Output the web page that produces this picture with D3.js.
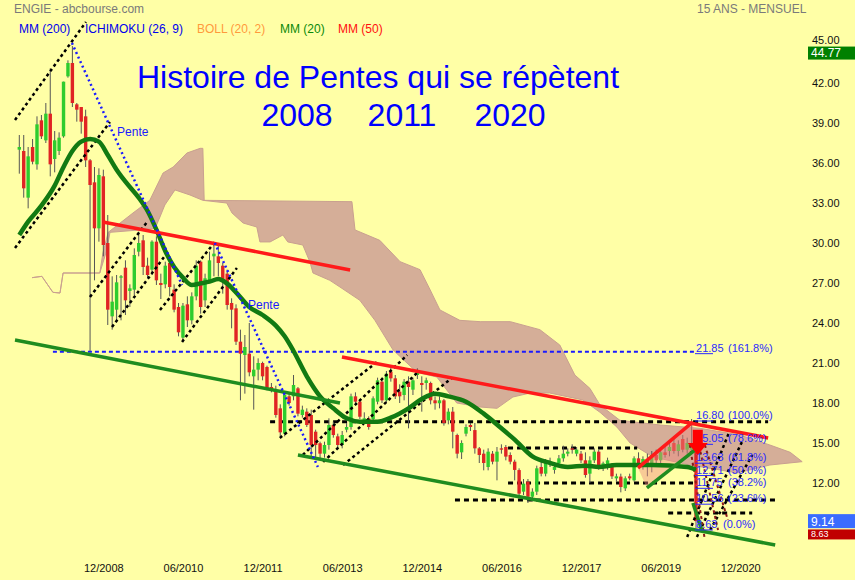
<!DOCTYPE html>
<html><head><meta charset="utf-8">
<script src="https://cdn.jsdelivr.net/npm/d3@7/dist/d3.min.js"></script>
<style>body{margin:0;background:#ffffa6;}svg{display:block;font-family:Arial,"Liberation Sans",sans-serif;}</style>
</head><body><svg id="c" width="855" height="580"></svg>
<script>
// ---- monthly candles, index 0 = 05/2007 ----
const opens=[37.0,36.9,33.4,37.2,35.9,39.2,37.7,39.7,36.3,36.9,38.0,42.5,43.5,40.4,40.2,39.5,36.2,34.55,31.1,35.0,
30.0,24.5,25.0,27.4,28.15,26.4,26.5,29.35,30.2,28.3,28.0,30.1,27.0,26.9,28.5,26.5,25.2,22.9,25.4,24.2,
26.0,28.6,25.7,27.2,29.0,29.0,28.3,27.7,25.5,25.1,22.6,21.6,21.7,20.0,20.5,21.0,20.7,19.2,18.95,17.6,
15.7,18.5,18.5,19.1,17.1,17.35,17.1,15.85,14.98,14.2,14.85,16.35,15.5,14.85,16.0,16.2,18.5,18.1,16.72,16.85,
16.8,18.1,19.6,18.2,20.35,19.85,18.85,18.6,19.6,19.0,20.1,19.5,19.5,19.5,18.2,17.98,18.2,16.7,17.35,15.6,
14.3,15.7,16.35,15.97,14.6,14.2,13.2,14.2,13.6,14.6,14.7,14.1,13.6,12.97,11.35,12.1,10.97,11.35,13.2,12.7,
13.5,12.98,13.5,13.85,14.2,14.6,14.2,14.2,13.7,12.7,13.7,14.35,13.2,13.2,13.35,12.35,12.48,11.6,12.5,12.2,
13.85,13.4,13.8,13.5,14.1,13.7,14.3,14.4,15.0,14.4,15.3,14.5,14.5,15.0];
const highs=[38.1,38.1,37.2,37.8,39.5,39.6,40.5,43.1,38.4,38.3,42.1,43.7,44.77,40.5,40.2,40.0,36.3,35.7,35.6,35.5,
32.1,27.5,27.6,27.6,28.7,26.9,29.6,30.85,30.6,28.9,30.2,30.5,27.7,28.6,28.9,26.9,25.5,25.5,26.0,26.3,
28.7,28.7,27.7,29.35,29.85,29.85,28.5,28.0,25.85,25.4,23.5,23.1,24.0,21.5,21.35,21.1,20.8,19.5,19.3,17.9,
18.85,18.8,20.1,19.2,17.8,17.6,17.5,16.0,15.1,15.1,16.85,16.6,15.7,15.9,16.5,18.7,18.8,18.3,17.3,17.0,
18.5,19.9,19.9,20.4,20.8,20.1,19.4,19.8,20.0,19.9,20.6,20.0,19.9,19.6,18.5,18.5,18.3,17.6,17.7,15.7,
15.2,16.4,16.5,16.5,14.7,14.5,14.6,14.4,14.7,14.9,14.85,14.3,13.75,13.1,12.3,12.3,11.6,13.3,13.6,13.8,
13.9,13.5,14.1,14.8,14.6,14.9,14.7,14.4,14.3,14.0,14.6,14.5,13.6,13.9,13.5,12.7,12.7,12.5,12.7,14.0,
14.3,14.0,14.2,14.4,14.5,14.6,14.9,15.0,15.5,15.2,15.6,15.4,16.8,15.5];
const lows=[35.2,33.4,32.6,35.9,35.5,37.8,37.5,35.0,35.3,36.6,37.9,42.4,40.2,39.1,38.2,35.7,21.9,27.2,30.1,29.0,
23.85,23.5,24.2,24.2,24.6,25.2,26.1,29.0,27.6,27.4,27.6,26.85,25.8,26.6,26.0,24.8,23.0,22.6,23.7,23.9,
25.7,24.7,25.2,27.0,27.5,27.5,26.2,25.0,23.6,22.35,18.2,18.7,20.0,17.5,19.7,19.7,18.95,18.8,16.9,15.5,
15.5,17.8,18.2,17.0,16.9,16.2,13.98,13.9,13.85,13.9,14.5,15.4,14.6,14.6,15.8,16.0,17.9,16.8,16.5,16.0,
16.6,17.9,18.0,18.0,19.6,18.3,18.0,18.2,16.1,18.6,19.8,17.35,19.0,17.9,17.5,17.6,16.3,16.4,14.6,13.85,
13.8,15.5,15.9,14.2,13.5,12.95,12.95,13.4,12.2,14.2,13.7,13.4,12.2,11.1,11.1,10.5,10.6,11.1,12.5,12.5,
13.2,12.7,13.3,13.6,14.0,14.2,14.0,13.5,12.4,12.0,13.5,13.0,12.9,13.0,12.3,12.1,11.3,11.4,12.2,12.1,
13.1,13.0,12.5,12.8,13.5,13.4,13.9,14.0,14.2,14.0,14.3,14.2,14.3,8.63];
const closes=[37.2,34.1,36.5,36.1,38.9,38.0,39.7,35.9,37.7,37.9,42.1,43.5,40.5,40.0,39.1,36.2,34.35,31.1,35.1,29.85,
25.0,25.6,27.05,27.5,25.7,26.6,29.1,30.0,28.2,27.6,30.1,27.2,26.85,28.3,26.7,25.0,23.3,25.3,24.2,26.0,
28.3,25.2,27.35,28.7,29.2,28.5,27.2,25.35,25.0,22.6,21.7,22.2,20.3,20.5,21.0,20.0,19.1,19.0,17.1,15.8,
18.6,18.0,19.35,17.2,17.5,16.35,14.85,14.85,14.2,14.85,16.35,15.6,14.85,15.6,16.2,18.5,18.1,16.97,16.85,16.2,
18.35,19.7,18.2,20.2,19.85,18.5,18.5,19.6,19.2,19.7,20.35,19.35,19.7,18.2,17.98,18.2,16.5,17.35,15.85,14.2,
15.0,16.2,16.2,14.6,14.1,13.5,14.35,13.6,14.35,14.5,13.98,13.6,12.98,11.2,11.95,10.97,11.35,13.1,12.7,13.5,
13.6,13.2,13.85,14.2,14.35,14.5,14.5,13.7,12.6,13.7,14.35,13.2,13.475,13.7,12.5,12.5,11.7,12.35,12.35,13.85,
13.4,13.8,13.5,14.1,13.7,14.3,14.1,14.7,14.4,14.9,14.5,15.0,15.0,9.14];

// MM(20) (candle index, value)
const maIdx=[0,2,5,8,10,12,14,16,18,20,22,24,27,29,31,33,35,37,39,41,43,45,47,49,52,55,58,60,62,65,68,71,74,77,81,84,88,91,94,97,101,105,109,112,116,120,124,128,131,135,143,151,153];
const maVal=[30.6,31.6,32.8,34.3,35.7,36.9,37.6,37.8,37.6,36.6,35.5,34.6,33.4,32.4,31.0,29.4,28.2,27.4,26.85,26.97,27.1,27.3,26.95,26.3,25.2,24.6,23.8,23.0,21.9,20.0,18.5,17.6,16.85,16.6,16.6,16.9,17.6,18.3,18.7,18.5,18.1,17.2,16.1,15.25,14.0,13.5,13.2,13.3,13.2,13.35,13.35,13.2,13.0];

// Ichimoku cloud edges (index, value)
const cloudTopIdx=[2.9,5.1,7.6,9.2,9.9,18.2,18.9,20.1,25.7,29.5,32.5,34.8,37.9,40.9,41.5,41.8,75.2,75.9,81.5,86.1,90.6,92.9,95.1,99.6,104.2,111,117.7,122.2,125.6,129,131.3,135.8,144.9,153.9,162.9,169.7,174.3,177];
const cloudTopVal=[27.4,27.5,26.3,26.25,27.75,27.75,29.25,30.8,32.25,33.2,35.25,35.7,36.75,37.1,37.1,33.2,33.1,30.98,30.2,28.6,28.0,26.48,24.98,24.2,24.1,24.1,23.5,22.35,20.1,19.1,17.85,16.7,16.35,16.1,15.6,14.85,14.3,13.6];
const cloudBotIdx=[2.9,5.1,7.6,9.2,9.9,18.2,19.8,20.5,27.3,30.7,31.8,32.9,35.2,38.6,41.5,46.9,48.1,50.6,53.7,54.4,56.7,59.6,60.7,64.1,65.7,66.4,70.2,72.5,77,80.4,84.5,89.9,94.4,98.9,104.2,108,111.6,115.5,119.9,127.4,131.3,135.1,138.1,143.3,151.6,158.4,162.3,169.7,177];
const cloudBotVal=[27.4,27.5,26.3,26.25,27.75,27.75,29.5,30.8,30.98,31.1,31.95,32.85,33.98,33.6,33.2,33.0,32.25,31.5,31.2,30.08,30.08,30.6,30.08,29.85,28.58,27.75,27.2,26.7,25.7,24.2,21.98,20.3,19.95,18.0,17.7,17.6,18.45,18.75,18.75,18.23,17.3,16.2,15.0,13.95,13.35,12.98,12.75,13.35,13.6];

// drawn trend lines [i1, v1, i2, v2]
const redLines=[[18.9,31.58,74.8,27.98],[72.95,21.45,169.3,15.38],[139.9,13.13,152.3,16.58]];
const greenLines=[[-0.97,22.73,72.5,18.0],[63.0,14.1,170.9,7.35],[152.3,10.5,154.3,8.48],[141.9,11.63,152.8,14.48]];
const channelLines=[[-0.97,39.23,15.08,46.58],[-0.97,29.63,20.5,39.08],[15.98,25.95,28.9,31.58],[20.96,23.7,33.4,29.25],
 [31.8,24.98,44.25,30.08],[36.8,22.58,49.2,28.13],[58.9,15.38,80.9,21.08],[64.1,14.1,87.7,21.6],[68.7,13.58,89.9,20.25],
 [73.2,13.35,97.8,19.88],[151.0,7.95,160.7,15.98],[153.2,7.95,163.6,15.23],[156.2,8.48,165.7,14.1]];
const maroonLines=[[151.6,14.85,155.0,7.73],[153.4,15.23,157.98,8.48],[155.0,14.85,160.2,9.23]];
const penteLines=[[11.9,45.0,36.8,26.85],[44.2,30.0,67.5,13.2]];
const penteLabelIdx=[22.1,51.7], penteLabelVal=[38.0,25.05];
const wedge=[[139.9,13.13],[152.3,16.58],[152.8,14.48],[141.9,11.63]];

// horizontal dotted levels
const hLevels=[16.6,14.63,12.0,10.73,9.75];
const hFrom=[56.7,110.5,110.5,98.5,146.7];
const hTo=[169.3,139.7,153.2,170.9,165.7];
const blueLevel=21.85, blueFrom=7.6, blueTo=152.8;

// Fibonacci retracement
const fibLevels=[21.85,16.80,15.05,13.63,12.71,11.75,10.56,8.63];
const fibText=["21.85","16.80","15.05","13.63","12.71","11.75","10.56","8.63"];
const fibPct=["(161.8%)","(100.0%)","(78.6%)","(61.8%)","(50.0%)","(38.2%)","(23.6%)","(0.0%)"];
const fibIdx=153;

const tickIdx=[19,37,55,73,91,109,127,145,163];
const tickLabels=["12/2008","06/2010","12/2011","06/2013","12/2014","06/2016","12/2017","06/2019","12/2020"];
const yTicks=[45,42,39,36,33,30,27,24,21,18,15,12];
const lastHigh=44.77, lastClose=9.14, lastLow=8.63;

const svg=d3.select("#c");
const x=d3.scaleLinear().domain([0,153]).range([19.3,19.3+153*4.423]);
const y=d3.scaleLinear().domain([12,42]).range([483,83]);

svg.append("rect").attr("width",855).attr("height",580).attr("fill","#ffffa6");

// cloud
const cloudPts=cloudTopIdx.map((d,i)=>[x(d),y(cloudTopVal[i])])
  .concat(cloudBotIdx.map((d,i)=>[x(d),y(cloudBotVal[i])]).reverse());
svg.append("path").attr("d",d3.line()(cloudPts)+"Z").attr("fill","#d5ae98")
  .attr("stroke","#c9a090").attr("stroke-width",1);

// horizontal dotted levels
hLevels.forEach((v,k)=>{
  svg.append("line").attr("x1",x(hFrom[k])).attr("x2",x(hTo[k])).attr("y1",y(v)).attr("y2",y(v))
   .attr("stroke","#000").attr("stroke-width",3).attr("stroke-dasharray","5,4");
});
svg.append("line").attr("x1",x(blueFrom)).attr("x2",x(blueTo)).attr("y1",y(blueLevel)).attr("y2",y(blueLevel))
  .attr("stroke","#1a1aff").attr("stroke-width",2).attr("stroke-dasharray","4,3");

// candles
const cg=svg.append("g");
d3.range(closes.length).forEach(i=>{
  const up=closes[i]>=opens[i];
  cg.append("line").attr("x1",x(i)).attr("x2",x(i)).attr("y1",y(highs[i])).attr("y2",y(lows[i]))
    .attr("stroke","#555").attr("stroke-width",1);
  const t=y(Math.max(opens[i],closes[i])), b=y(Math.min(opens[i],closes[i]));
  cg.append("rect").attr("x",x(i)-1.7).attr("width",3.4).attr("y",t).attr("height",Math.max(1.2,b-t))
    .attr("fill",up?"#2ecc2e":"#e02424");
});

// wedge shading
svg.append("path").attr("d",d3.line()(wedge.map(p=>[x(p[0]),y(p[1])]))+"Z")
  .attr("fill","rgba(240,140,130,0.45)");

const seg=(g,arr,color,w,dash)=>arr.forEach(a=>{
  const l=g.append("line").attr("x1",x(a[0])).attr("y1",y(a[1])).attr("x2",x(a[2])).attr("y2",y(a[3]))
   .attr("stroke",color).attr("stroke-width",w);
  if(dash) l.attr("stroke-dasharray",dash);
});
seg(svg,channelLines,"#000",2.5,"3,3");
seg(svg,maroonLines,"#8b1a1a",2,"3,3");

// MA 20
svg.append("path").attr("d",d3.line().curve(d3.curveMonotoneX)(maIdx.map((d,i)=>[x(d),y(maVal[i])])))
  .attr("fill","none").attr("stroke","#127a12").attr("stroke-width",4.5).attr("stroke-linejoin","round");

seg(svg,greenLines,"#1f8c1f",3.5);
seg(svg,redLines,"#ff1a1a",3.5);
seg(svg,penteLines,"#1a1aff",2.5,"2,3");
penteLabelIdx.forEach((d,k)=>svg.append("text").attr("x",x(d)).attr("y",y(penteLabelVal[k]))
  .attr("font-size",12).attr("fill","#1a1aff").text("Pente"));

// Fibonacci labels
const fx=x(fibIdx);
fibLevels.forEach((v,k)=>{
  svg.append("text").attr("x",fx).attr("y",y(v)).attr("font-size",11).attr("fill","#2a2aff").text(fibText[k]);
  svg.append("line").attr("x1",fx-1).attr("x2",fx+17).attr("y1",y(v)+2).attr("y2",y(v)+2)
    .attr("stroke","#2a2aff").attr("stroke-width",1);
  svg.append("text").attr("x",fx+(k==7?27:32)).attr("y",y(v)).attr("font-size",11).attr("fill","#2a2aff").text(fibPct[k]);
});

// red arrow
const ax=x(153.4), aTop=y(16.0), aBase=y(15.0), aTip=y(14.1);
svg.append("path").attr("fill","#ff0000")
  .attr("d",`M${ax-5},${aTop}L${ax+5},${aTop}L${ax+5},${aBase}L${ax+10},${aBase}L${ax},${aTip}L${ax-10},${aBase}L${ax-5},${aBase}Z`);

// title
svg.append("text").attr("x",378).attr("y",88).attr("text-anchor","middle").attr("font-size",32)
  .attr("fill","#0000ff").text("Histoire de Pentes qui se répètent");
[["2008",297],["2011",402],["2020",510]].forEach(t=>svg.append("text").attr("x",t[1]).attr("y",126)
  .attr("text-anchor","middle").attr("font-size",32).attr("fill","#0000ff").text(t[0]));

// header + legend
svg.append("text").attr("x",14).attr("y",13).attr("font-size",12).attr("fill","#7a7a7a").text("ENGIE - abcbourse.com");
svg.append("text").attr("x",697).attr("y",13).attr("font-size",12).attr("fill","#7a7a7a").text("15 ANS - MENSUEL");
[["MM (200)",19,"#0000ee"],["ICHIMOKU (26, 9)",85,"#0000ee"],["BOLL (20, 2)",197,"#ff9a3c"],["MM (20)",280,"#0a8a0a"],["MM (50)",338,"#ff1010"]]
 .forEach(l=>svg.append("text").attr("x",l[1]).attr("y",33).attr("font-size",12).attr("fill",l[2]).text(l[0]));

// axes
const ya=svg.append("g").attr("transform","translate(809,0)")
  .call(d3.axisRight(y).tickValues(yTicks).tickFormat(d3.format(".2f")).tickSize(0).tickPadding(3));
ya.select(".domain").remove();
ya.selectAll("text").attr("font-size",11).attr("fill","#111").attr("font-family","Arial, Liberation Sans, sans-serif");
ya.selectAll(".tick").filter(d=>d===45).select("text").attr("dy","0.05em");
const xa=svg.append("g").attr("transform","translate(0,561)")
  .call(d3.axisBottom(x).tickValues(tickIdx).tickFormat((d,i)=>tickLabels[i]).tickSize(0).tickPadding(3));
xa.select(".domain").remove();
xa.selectAll("text").attr("font-size",11).attr("fill","#111").attr("font-family","Arial, Liberation Sans, sans-serif");

// price boxes
const box=(v,fill,h,off,fs)=>{
  svg.append("rect").attr("x",808).attr("y",y(v)-off).attr("width",47).attr("height",h).attr("fill",fill);
  svg.append("text").attr("x",811).attr("y",y(v)-off+h-2.5).attr("font-size",fs).attr("fill","#fff").text(d3.format(".2f")(v));
};
box(lastHigh,"#008000",13,-0.5,12);
box(lastLow,"#c00000",10,-1.5,9);
box(lastClose,"#3a6cff",14,7,12);
</script></body></html>
